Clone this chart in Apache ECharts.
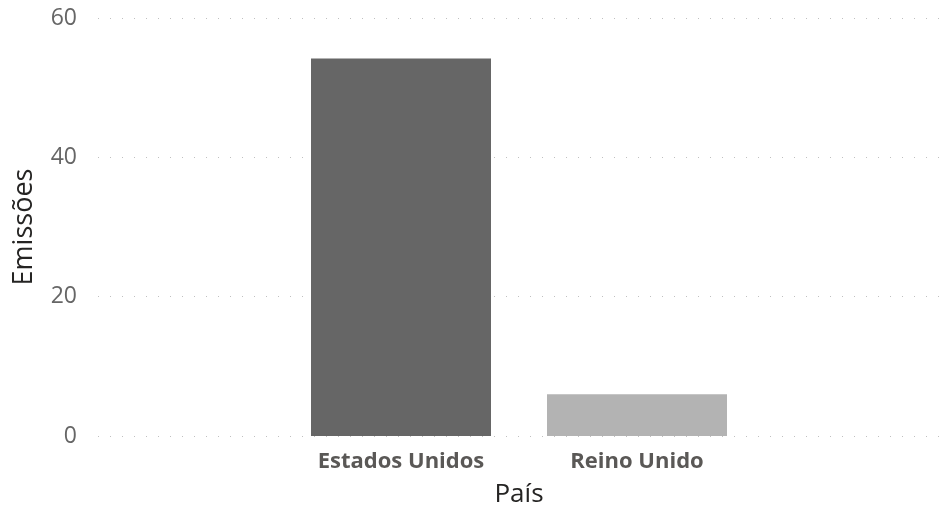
<!DOCTYPE html>
<html>
<head>
<meta charset="utf-8">
<script src="https://cdn.jsdelivr.net/npm/echarts@6/dist/echarts.min.js"></script>
<style>
  html, body { margin: 0; padding: 0; background: #fff; }
  #chart { width: 942px; height: 513px; }
</style>
</head>
<body>
<div id="chart"></div>
<script>
const paises = ['Estados Unidos', 'Reino Unido'];
const emissoes = [54.2, 6.0];
const coresBarras = ['#666666', '#b3b3b3'];
const yTicks = [0, 20, 40, 60];

const chart = echarts.init(document.getElementById('chart'));
const fonte = '"Open Sans", "Noto Sans", sans-serif';

// grade de fundo (linhas pontilhadas) + grade das barras, mais estreita
const option = {
  animation: false,
  grid: [
    { left: 98, right: 0, top: 18, bottom: 77 },
    { left: 283, right: 187, top: 18, bottom: 77 }
  ],
  xAxis: [
    { type: 'value', gridIndex: 0, show: false, min: 0, max: 1 },
    {
      type: 'category',
      gridIndex: 1,
      data: paises,
      axisLine: { show: false },
      axisTick: { show: false },
      axisLabel: {
        color: '#5a5856',
        fontFamily: fonte,
        fontWeight: 'bold',
        fontSize: 22,
        margin: 15
      },
      name: 'País',
      nameLocation: 'middle',
      nameGap: 46,
      nameTextStyle: { color: '#252423', fontFamily: fonte, fontSize: 26 }
    }
  ],
  yAxis: [
    {
      type: 'value',
      gridIndex: 0,
      min: yTicks[0],
      max: yTicks[yTicks.length - 1],
      interval: 20,
      axisLine: { show: false },
      axisTick: { show: false },
      axisLabel: { color: '#666666', fontFamily: fonte, fontSize: 23, margin: 21 },
      splitLine: {
        show: true,
        lineStyle: { color: '#c0c0c0', width: 1, type: [1, 11] }
      },
      name: 'Emissões',
      nameLocation: 'middle',
      nameRotate: 90,
      nameGap: 60,
      nameTextStyle: { color: '#252423', fontFamily: fonte, fontSize: 27 }
    },
    {
      type: 'value',
      gridIndex: 1,
      min: yTicks[0],
      max: yTicks[yTicks.length - 1],
      show: false,
      splitLine: { show: false }
    }
  ],
  series: [
    {
      type: 'bar',
      xAxisIndex: 1,
      yAxisIndex: 1,
      barWidth: 180,
      data: emissoes.map((v, i) => ({ value: v, itemStyle: { color: coresBarras[i] } }))
    }
  ]
};

chart.setOption(option);
window.addEventListener('resize', function () { chart.resize(); });
</script>
</body>
</html>
